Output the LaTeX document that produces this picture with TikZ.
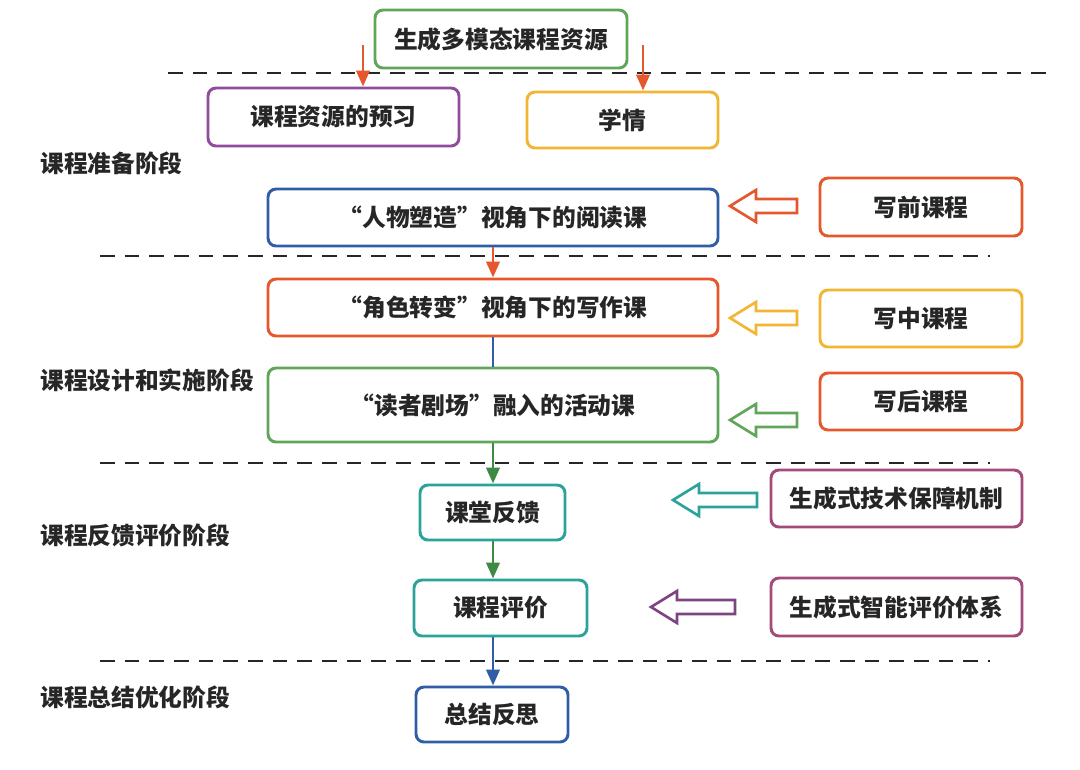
\documentclass[tikz,border=0pt]{standalone}
\usepackage{fontspec}
\setmainfont{Noto Sans CJK SC}
\usetikzlibrary{arrows.meta}
\definecolor{cgreen}{HTML}{5FA65B}
\definecolor{cdgreen}{HTML}{3E8A45}
\definecolor{cpurple}{HTML}{8E4C9D}
\definecolor{cyellow}{HTML}{F2B632}
\definecolor{cblue}{HTML}{2F5EA6}
\definecolor{cred}{HTML}{E5582D}
\definecolor{cteal}{HTML}{2BA39B}
\definecolor{cmag}{HTML}{A44A78}
\definecolor{cvio}{HTML}{7D4582}
\newcommand{\bx}[7]{\node[box,draw=#6,minimum width={(#4-#2)*0.75pt},minimum height={(#5-#3)*0.75pt}] (#1) at ({(#2+#4)/2},{(#3+#5)/2}) {#7};}
\begin{document}
\begin{tikzpicture}[x=0.75pt,y=-0.75pt,
  box/.style={line width=2.2pt, rounded corners=6pt, inner sep=0pt, font=\fontsize{17.8}{20}\selectfont\bfseries, text=black!85},
  lab/.style={anchor=west, inner sep=0pt, font=\fontsize{17.8}{20}\selectfont\bfseries, text=black!85},
  dline/.style={line width=2pt, dash pattern=on 11pt off 7.5pt, black!85},
  arr/.style={line width=2.2pt, -{Triangle[length=12pt,width=10pt]}},
  conn/.style={line width=2.2pt},
  harrow/.pic={\draw[line width=2pt, line join=miter] (0,0) -- (26,-16) -- (26,-7) -- (#1,-7) -- (#1,7) -- (26,7) -- (26,16) -- cycle;}
]
\useasboundingbox (0,0) rectangle (1080,769);
\fill[white] (0,0) rectangle (1080,769);
% dashed lines
\draw[dline] (168,73) -- (1055,73);
\draw[dline] (100,256) -- (990,256);
\draw[dline] (100,463) -- (990,463);
\draw[dline] (100,661) -- (990,661);
% boxes
\bx{top}{375}{10}{627}{68}{cgreen}{生成多模态课程资源}
\bx{pre}{208}{88}{459}{146}{cpurple}{课程资源的预习}
\bx{xq}{527}{92}{718}{148}{cyellow}{学情}
\bx{read}{268}{189}{718}{246}{cblue}{“人物塑造”视角下的阅读课}
\bx{wq}{820}{178}{1022}{236}{cred}{写前课程}
\bx{write}{268}{279}{718}{336}{cred}{“角色转变”视角下的写作课}
\bx{wz}{820}{290}{1022}{347}{cyellow}{写中课程}
\bx{act}{268}{368}{718}{442}{cgreen}{“读者剧场”融入的活动课}
\bx{wh}{820}{373}{1022}{430}{cred}{写后课程}
\bx{fb}{420}{485}{565}{540}{cteal}{课堂反馈}
\bx{tech}{771}{470}{1022}{527}{cmag}{生成式技术保障机制}
\bx{ev}{414}{580}{587}{636}{cteal}{课程评价}
\bx{sys}{771}{578}{1022}{636}{cmag}{生成式智能评价体系}
\bx{sum}{416}{687}{568}{742}{cblue}{总结反思}
% labels
\node[lab] (l1) at (40,163) {课程准备阶段};
\node[lab] (l2) at (40,380) {课程设计和实施阶段};
\node[lab] (l3) at (40,535) {课程反馈评价阶段};
\node[lab] (l4) at (40,697) {课程总结优化阶段};
% connectors
\coordinate (s1) at (363,45);
\coordinate (s2) at (643,45);
\coordinate (sp) at (493,0);
\draw[arr,cred] (s1) -- (s1 |- pre.north);
\draw[arr,cred] (s2) -- (s2 |- xq.north);
\draw[arr,cred] (read.south -| sp) -- (write.north -| sp);
\draw[conn,cblue] (write.south -| sp) -- (act.north -| sp);
\draw[arr,cdgreen] (act.south -| sp) -- (fb.north -| sp);
\draw[arr,cdgreen] (fb.south -| sp) -- (ev.north -| sp);
\draw[arr,cblue] (ev.south -| sp) -- (sum.north -| sp);
% hollow arrows
\pic[cred] at (730,206) {harrow=67};
\pic[cyellow] at (730,318) {harrow=67};
\pic[cgreen] at (730,420) {harrow=67};
\pic[cteal] at (673,500) {harrow=84};
\pic[cvio] at (651,607) {harrow=84};
\end{tikzpicture}
\end{document}
